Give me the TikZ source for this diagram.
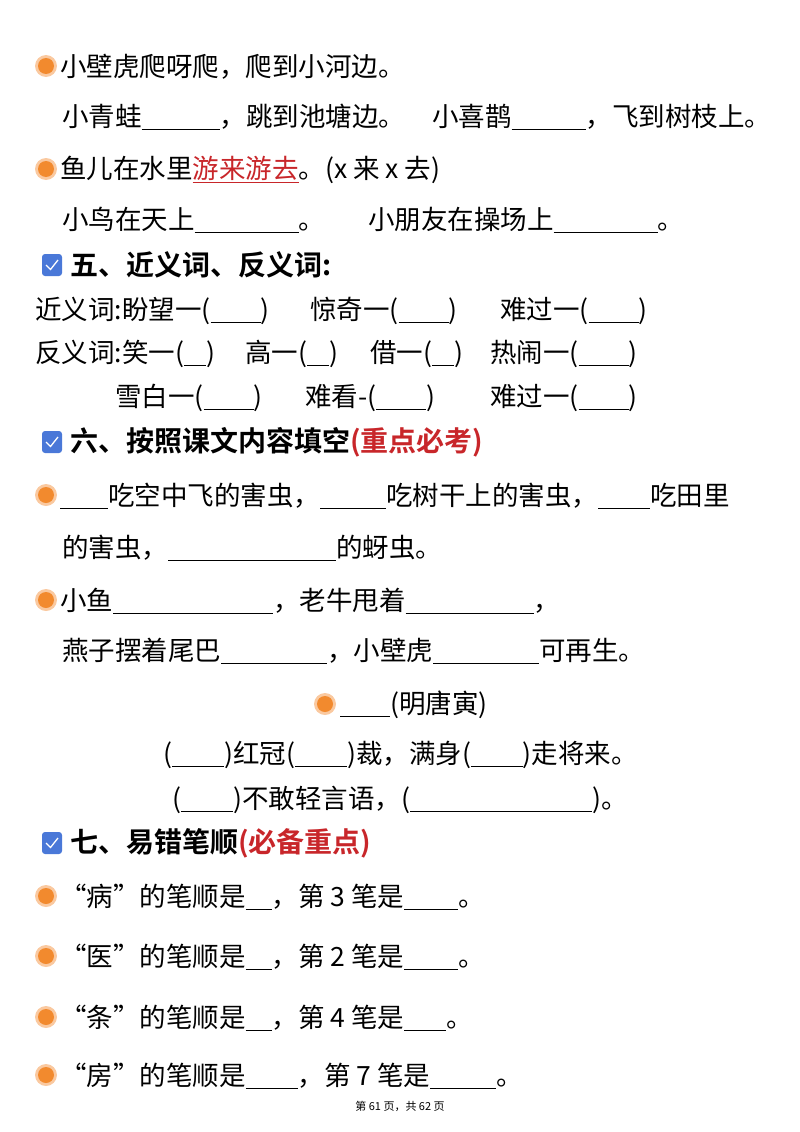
\documentclass[tikz,border=0pt]{standalone}
\usepackage{fontspec}
\setmainfont{Noto Sans CJK SC}
\newfontfamily\cjkb{Noto Sans CJK SC Bold}
\definecolor{bul}{HTML}{F28A2E}
\definecolor{bulr}{HTML}{FAC9A0}
\definecolor{chk}{HTML}{4A78D8}
\definecolor{hred}{HTML}{C8262A}
\newcommand{\bl}[1]{\rule[-3pt]{#1pt}{0.9pt}}
\tikzset{
 tx/.style={anchor=west,inner sep=0pt,font=\fontsize{26.5}{26.5}\selectfont},
 hd/.style={anchor=west,inner sep=0pt,font=\fontsize{28}{28}\cjkb},
 ft/.style={inner sep=0pt,font=\fontsize{11}{11}\selectfont},
}
\newcommand{\bullt}[3]{\fill[bulr] (#1,#2) circle (11pt); \fill[bul] (#1,#2) circle (8pt); \coordinate (#3) at (#1,#2);}
\newcommand{\chkbox}[3]{\fill[chk,rounded corners=3pt] (#1-10,#2-11) rectangle (#1+10,#2+11);
 \draw[white,line width=1.3pt] (#1-6,#2) -- (#1-1.5,#2+4.5) -- (#1+6,#2-5); \coordinate (#3) at (#1,#2);}
\begin{document}
\begin{tikzpicture}[x=1pt,y=-1pt]
\useasboundingbox (0,0) rectangle (800,1132);
\bullt{46}{66}{b1}
\node[tx] (l1) at (60,67) {小壁虎爬呀爬，爬到小河边。};
\node[tx] (l2a) at (62,117) {小青蛙\bl{78}，跳到池塘边。};
\node[tx] (l2b) at (432,117) {小喜鹊\bl{74}，飞到树枝上。};
\bullt{46}{169}{b2}
\node[tx] (l3) at (60,170) {鱼儿在水里\textcolor{hred}{\underline{游来游去}}。(x 来 x 去)};
\node[tx] (l4a) at (62,220) {小鸟在天上\bl{104}。};
\node[tx] (l4b) at (368,220) {小朋友在操场上\bl{104}。};
\chkbox{52}{265}{c1}
\node[hd] (h1) at (70,265) {五、近义词、反义词:};
\node[tx] (s1) at (35,311) {近义词:盼望一(\bl{50})};
\node[tx] (s2) at (310,311) {惊奇一(\bl{50})};
\node[tx] (s3) at (500,311) {难过一(\bl{50})};
\node[tx] (a1) at (35,354) {反义词:笑一(\bl{22})};
\node[tx] (a2) at (245,354) {高一(\bl{22})};
\node[tx] (a3) at (370,354) {借一(\bl{22})};
\node[tx] (a4) at (490,354) {热闹一(\bl{50})};
\node[tx] (a5) at (115,398) {雪白一(\bl{50})};
\node[tx] (a6) at (305,398) {难看-(\bl{50})};
\node[tx] (a7) at (490,398) {难过一(\bl{50})};
\chkbox{52}{442}{c2}
\node[hd] (h2) at (70,442) {六、按照课文内容填空\textcolor{hred}{(重点必考)}};
\bullt{46}{495}{b3}
\node[tx] (f1) at (60,496) {\bl{48}吃空中飞的害虫，\bl{66}吃树干上的害虫，\bl{52}吃田里};
\node[tx] (f2) at (62,548) {的害虫，\bl{168}的蚜虫。};
\bullt{46}{600}{b4}
\node[tx] (f3) at (60,601) {小鱼\bl{160}，老牛甩着\bl{128}，};
\node[tx] (f4) at (62,651) {燕子摆着尾巴\bl{106}，小壁虎\bl{106}可再生。};
\bullt{325}{704}{b5}
\node[tx] (p1) at (340,705) {\bl{50}(明唐寅)};
\node[tx] (p2) at (163,755) {(\bl{52})红冠(\bl{52})裁，满身(\bl{52})走将来。};
\node[tx] (p3) at (172,800) {(\bl{52})不敢轻言语，(\bl{182})。};
\chkbox{52}{843}{c3}
\node[hd] (h3) at (70,843) {七、易错笔顺\textcolor{hred}{(必备重点)}};
\bullt{46}{896}{b6}
\node[tx] (q1) at (60,897) {“病”的笔顺是\bl{26}，第 3 笔是\bl{54}。};
\bullt{46}{956}{b7}
\node[tx] (q2) at (60,957) {“医”的笔顺是\bl{26}，第 2 笔是\bl{54}。};
\bullt{46}{1017}{b8}
\node[tx] (q3) at (60,1018) {“条”的笔顺是\bl{26}，第 4 笔是\bl{42}。};
\bullt{46}{1075}{b9}
\node[tx] (q4) at (60,1076) {“房”的笔顺是\bl{52}，第 7 笔是\bl{66}。};
\node[ft] (foot) at (400,1106) {第 61 页，共 62 页};
\end{tikzpicture}
\end{document}
